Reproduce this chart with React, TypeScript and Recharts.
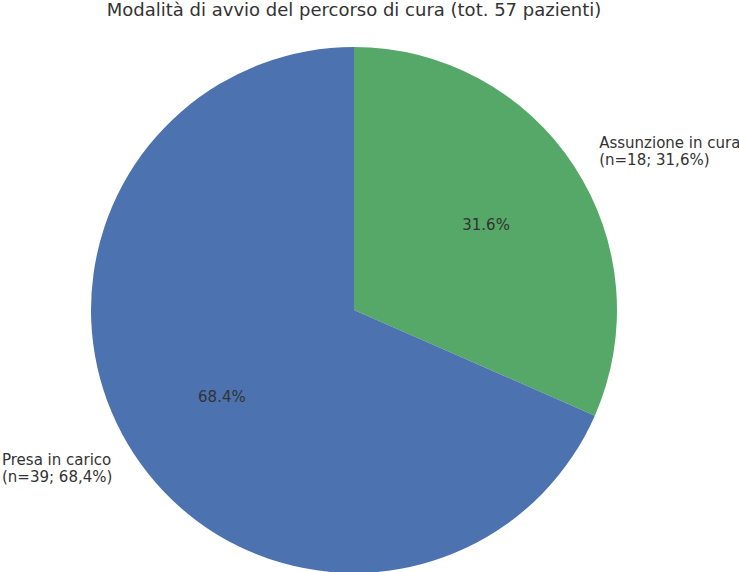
import React from "react";
import { PieChart, Pie, Cell } from "recharts";

const TITLE = "Modalità di avvio del percorso di cura (tot. 57 pazienti)";
const CATEGORIES = ["Assunzione in cura", "Presa in carico"];
const COUNTS = [18, 39];
const DETAILS = ["(n=18; 31,6%)", "(n=39; 68,4%)"];
const COLORS = ["#55A868", "#4C72B0"];

const data = CATEGORIES.map((name, i) => ({ name, value: COUNTS[i], detail: DETAILS[i] }));

const FONT = "'DejaVu Sans', sans-serif";
const TEXT = "#333333";
const RADIAN = Math.PI / 180;

let ctx: CanvasRenderingContext2D | null = null;
function textWidth(s: string, size: number) {
  if (!ctx) ctx = document.createElement("canvas").getContext("2d");
  if (!ctx) return s.length * size * 0.6;
  ctx.font = `${size}px DejaVu Sans`;
  return ctx.measureText(s).width;
}

function renderLabel(props: any) {
  const { cx, cy, midAngle, outerRadius, percent, payload, index } = props;
  const cos = Math.cos(-midAngle * RADIAN);
  const sin = Math.sin(-midAngle * RADIAN);
  // percentage inside the slice
  const px = cx + outerRadius * 0.6 * cos;
  const py = cy + outerRadius * 0.6 * sin + 1;
  // category label outside
  const ox = cx + outerRadius * 1.1 * cos;
  const oy = cy + outerRadius * 1.1 * sin;
  const lines = [payload.name, payload.detail];
  const size = 15;
  const blockW = Math.max(...lines.map((l) => textWidth(l, size)));
  const startX = cos >= 0 ? ox + 3 : Math.max(2, ox - 4 - blockW);
  const lineH = 17;
  return (
    <g key={`lbl-${index}`}>
      <text
        x={px}
        y={py}
        textAnchor="middle"
        dominantBaseline="central"
        fill={TEXT}
        fontSize={15}
        fontFamily={FONT}
      >
        {`${(percent * 100).toFixed(1)}%`}
      </text>
      {lines.map((l, i) => (
        <text
          key={i}
          x={startX}
          y={oy + (i - 0.5) * lineH}
          textAnchor="start"
          dominantBaseline="central"
          fill={TEXT}
          fontSize={size}
          fontFamily={FONT}
        >
          {l}
        </text>
      ))}
    </g>
  );
}

export default function App() {
  return (
    <div
      style={{
        position: "absolute",
        left: 0,
        top: 0,
        width: 739,
        height: 572,
        background: "#ffffff",
        overflow: "hidden",
      }}
    >
      <div
        style={{
          position: "absolute",
          left: 0,
          top: 0,
          width: 708,
          textAlign: "center",
          fontFamily: FONT,
          fontSize: 18,
          lineHeight: "20px",
          color: TEXT,
          whiteSpace: "nowrap",
        }}
      >
        {TITLE}
      </div>
      <PieChart
        width={739}
        height={572}
        margin={{ top: 0, right: 0, bottom: 0, left: 0 }}
        style={{ position: "absolute", left: 0, top: 0 }}
      >
        <Pie
          data={data}
          dataKey="value"
          nameKey="name"
          cx={354}
          cy={310}
          outerRadius={263}
          startAngle={90}
          endAngle={-270}
          stroke="none"
          labelLine={false}
          label={renderLabel}
          isAnimationActive={false}
        >
          {data.map((d, i) => (
            <Cell key={d.name} fill={COLORS[i]} />
          ))}
        </Pie>
      </PieChart>
    </div>
  );
}
